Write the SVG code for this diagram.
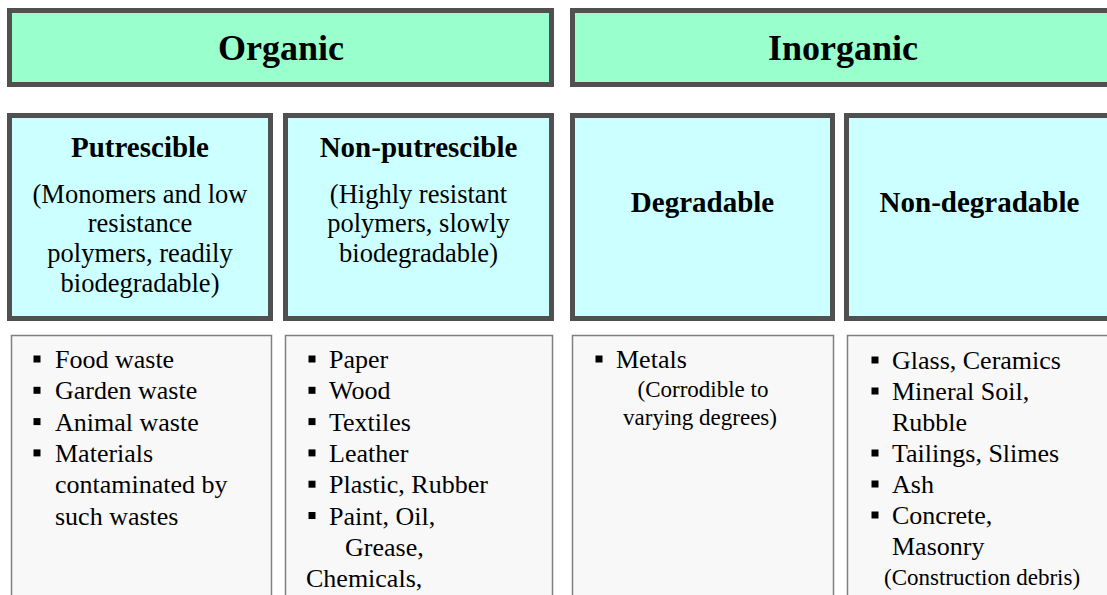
<svg xmlns="http://www.w3.org/2000/svg" width="1107" height="595" viewBox="0 0 1107 595">
<style>
text{font-family:"Liberation Serif","Times New Roman",serif;fill:#000}
.h1{fill:#99ffcc;stroke:#505050;stroke-width:5}
.h2{fill:#ccffff;stroke:#505050;stroke-width:5}
.db{fill:#f8f8f8;stroke:#808080;stroke-width:1.5}
.t1{font-size:36px;font-weight:bold;text-anchor:middle}
.t2{font-size:29px;font-weight:bold;text-anchor:middle}
.sub{font-size:26.5px;text-anchor:middle}
.it{font-size:26px}
.par{font-size:23px}
.bl{fill:#000}
</style>
<rect width="1107" height="595" fill="#fff"/>
<g id="organic">
<rect class="h1" x="9.5" y="10.5" width="542" height="74"/>
<text class="t1" x="281" y="60">Organic</text>
</g>
<g id="inorganic">
<rect class="h1" x="572.5" y="10.5" width="542" height="74"/>
<text class="t1" x="843" y="60">Inorganic</text>
</g>
<g id="putrescible">
<rect class="h2" x="9.5" y="115.5" width="261" height="203"/>
<text class="t2" x="140" y="157">Putrescible</text>
<text class="sub" x="140" y="203">(Monomers and low</text>
<text class="sub" x="140" y="232">resistance</text>
<text class="sub" x="140" y="262">polymers, readily</text>
<text class="sub" x="140" y="292">biodegradable)</text>
</g>
<g id="nonputrescible">
<rect class="h2" x="285.5" y="115.5" width="266" height="203"/>
<text class="t2" x="418.5" y="157">Non-putrescible</text>
<text class="sub" x="418.5" y="203">(Highly resistant</text>
<text class="sub" x="418.5" y="232">polymers, slowly</text>
<text class="sub" x="418.5" y="262">biodegradable)</text>
</g>
<g id="degradable">
<rect class="h2" x="572.5" y="115.5" width="260" height="203"/>
<text class="t2" x="702.5" y="212">Degradable</text>
</g>
<g id="nondegradable">
<rect class="h2" x="846.5" y="115.5" width="266" height="203"/>
<text class="t2" x="979.5" y="212">Non-degradable</text>
</g>
<g id="putrescible-items">
<rect class="db" x="11.5" y="335.5" width="260" height="300"/>
<rect class="bl" x="33.5" y="355.5" width="7" height="7"/>
<rect class="bl" x="33.5" y="386.8" width="7" height="7"/>
<rect class="bl" x="33.5" y="418.1" width="7" height="7"/>
<rect class="bl" x="33.5" y="449.4" width="7" height="7"/>
<text class="it" x="55" y="368">Food waste</text>
<text class="it" x="55" y="399.3">Garden waste</text>
<text class="it" x="55" y="430.6">Animal waste</text>
<text class="it" x="55" y="461.9">Materials</text>
<text class="it" x="55" y="493.2">contaminated by</text>
<text class="it" x="55" y="524.5">such wastes</text>
</g>
<g id="nonputrescible-items">
<rect class="db" x="285.5" y="335.5" width="267" height="300"/>
<rect class="bl" x="308.5" y="355.5" width="7" height="7"/>
<rect class="bl" x="308.5" y="386.8" width="7" height="7"/>
<rect class="bl" x="308.5" y="418.1" width="7" height="7"/>
<rect class="bl" x="308.5" y="449.4" width="7" height="7"/>
<rect class="bl" x="308.5" y="480.7" width="7" height="7"/>
<rect class="bl" x="308.5" y="512" width="7" height="7"/>
<text class="it" x="329" y="368">Paper</text>
<text class="it" x="329" y="399.3">Wood</text>
<text class="it" x="329" y="430.6">Textiles</text>
<text class="it" x="329" y="461.9">Leather</text>
<text class="it" x="329" y="493.2">Plastic, Rubber</text>
<text class="it" x="329" y="524.5">Paint, Oil,</text>
<text class="it" x="345" y="555.8">Grease,</text>
<text class="it" x="306" y="587.1">Chemicals,</text>
</g>
<g id="degradable-items">
<rect class="db" x="572.5" y="335.5" width="261" height="300"/>
<rect class="bl" x="595.5" y="355.5" width="7" height="7"/>
<text class="it" x="616" y="368">Metals</text>
<text class="par" x="703" y="397" text-anchor="middle">(Corrodible to</text>
<text class="par" x="700" y="425" text-anchor="middle">varying degrees)</text>
</g>
<g id="nondegradable-items">
<rect class="db" x="847.5" y="335.5" width="300" height="300"/>
<rect class="bl" x="871.5" y="356.5" width="7" height="7"/>
<rect class="bl" x="871.5" y="387.5" width="7" height="7"/>
<rect class="bl" x="871.5" y="449.5" width="7" height="7"/>
<rect class="bl" x="871.5" y="480.5" width="7" height="7"/>
<rect class="bl" x="871.5" y="511.5" width="7" height="7"/>
<text class="it" x="892" y="369">Glass, Ceramics</text>
<text class="it" x="892" y="400">Mineral Soil,</text>
<text class="it" x="892" y="431">Rubble</text>
<text class="it" x="892" y="462">Tailings, Slimes</text>
<text class="it" x="892" y="493">Ash</text>
<text class="it" x="892" y="524">Concrete,</text>
<text class="it" x="892" y="555">Masonry</text>
<text class="par" x="884" y="585">(Construction debris)</text>
</g>
<g id="connectors"/>
</svg>
